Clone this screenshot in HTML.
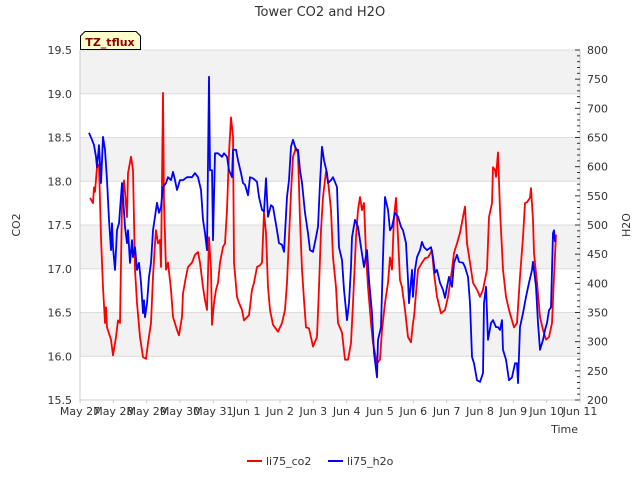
<!DOCTYPE html>
<html><head><meta charset="utf-8"><style>
body{margin:0;background:#fff;font-family:"Liberation Sans",sans-serif}
svg text{font-family:"DejaVu Sans","Liberation Sans",sans-serif;fill:#333}
</style></head><body>
<svg id="chart" width="640" height="480" xmlns="http://www.w3.org/2000/svg">
<g id="bands"></g>
<g id="grid"></g>
<g id="axes"></g>
<g id="series"></g>
<text x="320" y="16" text-anchor="middle" font-size="13">Tower CO2 and H2O</text>
<text x="20" y="225" text-anchor="middle" font-size="11" transform="rotate(-90 20 225)">CO2</text>
<text x="630" y="225" text-anchor="middle" font-size="11" transform="rotate(-90 630 225)">H2O</text>
<text x="578" y="433" text-anchor="end" font-size="11">Time</text>
<g>
<path d="M80.5,49.5 L80.5,36 L85,31.5 L136,31.5 L140.5,36 L140.5,49.5 Z" fill="#ffffcc" stroke="#000" stroke-width="1"/>
<text x="110" y="46" text-anchor="middle" font-size="11" font-weight="bold" style="fill:#8b0000">TZ_tflux</text>
</g>
<g>
<g><line x1="247" y1="461" x2="262" y2="461" stroke="#ff0000" stroke-width="2"/><text x="266" y="465" font-size="11">li75_co2</text></g>
<g><line x1="328" y1="461" x2="343" y2="461" stroke="#0000ff" stroke-width="2"/><text x="347" y="465" font-size="11">li75_h2o</text></g>
</g>
</svg>
<script>
const xTickLabels=["May 27","May 28","May 29","May 30","May 31","Jun 1","Jun 2","Jun 3","Jun 4","Jun 5","Jun 6","Jun 7","Jun 8","Jun 9","Jun 10","Jun 11"];
const co2Ticks=[15.5,16.0,16.5,17.0,17.5,18.0,18.5,19.0,19.5];
const h2oTicks=[200,250,300,350,400,450,500,550,600,650,700,750,800];
const co2Days=[.30,.39,.42,.45,.51,.57,.63,.69,.75,.78,.81,.93,.99,1.08,1.14,1.20,1.26,1.32,1.41,1.44,1.53,1.59,1.65,1.71,1.80,1.89,1.98,2.04,2.13,2.19,2.25,2.28,2.34,2.40,2.43,2.49,2.52,2.58,2.64,2.73,2.79,2.91,2.97,3.06,3.09,3.18,3.24,3.36,3.45,3.54,3.60,3.69,3.75,3.81,3.87,3.93,3.96,4.02,4.08,4.14,4.20,4.29,4.35,4.41,4.47,4.53,4.59,4.62,4.71,4.77,4.86,4.92,5.07,5.16,5.22,5.31,5.40,5.46,5.52,5.58,5.64,5.70,5.79,5.94,6.06,6.15,6.21,6.27,6.33,6.39,6.48,6.54,6.60,6.66,6.72,6.78,6.87,6.99,7.11,7.17,7.23,7.29,7.38,7.44,7.53,7.59,7.68,7.74,7.86,7.95,8.04,8.13,8.19,8.28,8.34,8.40,8.46,8.52,8.58,8.64,8.73,8.79,8.91,9.00,9.06,9.15,9.24,9.30,9.36,9.42,9.48,9.54,9.60,9.66,9.75,9.84,9.93,9.99,10.02,10.14,10.26,10.35,10.44,10.56,10.62,10.71,10.83,10.95,11.04,11.16,11.22,11.31,11.40,11.49,11.55,11.61,11.70,11.79,11.91,12.00,12.09,12.21,12.27,12.36,12.39,12.45,12.48,12.54,12.60,12.69,12.78,12.87,13.02,13.11,13.20,13.29,13.35,13.41,13.50,13.53,13.59,13.62,13.71,13.80,13.89,13.98,14.07,14.16,14.22,14.28];
const co2Values=[17.81,17.75,17.93,17.88,18.16,18.19,17.36,16.79,16.38,16.56,16.33,16.19,16.01,16.22,16.41,16.38,17.75,18.01,17.59,18.09,18.28,18.13,16.99,16.61,16.22,15.99,15.97,16.15,16.38,16.91,17.29,17.44,17.29,17.33,17.02,19.01,17.75,16.99,17.07,16.76,16.45,16.30,16.24,16.45,16.72,16.91,17.02,17.07,17.16,17.19,17.07,16.79,16.64,16.53,17.36,16.99,16.36,16.61,16.76,16.84,17.07,17.25,17.29,17.67,18.32,18.73,18.51,17.07,16.68,16.61,16.53,16.41,16.47,16.76,16.84,17.02,17.04,17.07,17.64,17.41,16.79,16.53,16.36,16.28,16.38,16.53,16.84,17.36,17.87,18.28,18.38,18.32,17.56,16.99,16.64,16.33,16.32,16.11,16.22,16.79,17.44,17.82,18.11,18.01,17.67,17.13,16.79,16.38,16.27,15.96,15.96,16.15,16.61,17.36,17.67,17.82,17.67,17.75,17.18,16.79,16.38,16.15,15.92,15.96,16.30,16.61,16.84,17.13,16.99,17.59,17.81,17.36,16.87,16.79,16.53,16.22,16.16,16.38,16.45,16.99,17.07,17.12,17.13,17.21,16.95,16.68,16.49,16.53,16.68,16.99,17.18,17.29,17.41,17.59,17.71,17.29,17.07,16.84,16.76,16.68,16.76,16.99,17.59,17.75,18.16,18.13,18.05,18.33,17.67,16.99,16.68,16.53,16.33,16.38,16.91,17.36,17.75,17.76,17.81,17.92,17.56,17.18,16.84,16.45,16.30,16.19,16.22,16.38,16.91,17.39];
const h2oDays=[.27,.36,.42,.48,.51,.57,.63,.69,.75,.81,.87,.93,.96,.99,1.05,1.11,1.17,1.26,1.29,1.35,1.41,1.44,1.50,1.56,1.59,1.65,1.71,1.77,1.83,1.89,1.92,1.95,2.01,2.07,2.13,2.19,2.25,2.31,2.37,2.43,2.49,2.58,2.64,2.73,2.79,2.85,2.91,3.00,3.09,3.21,3.36,3.45,3.54,3.63,3.69,3.75,3.81,3.87,3.90,3.96,3.99,4.05,4.14,4.26,4.32,4.41,4.47,4.56,4.59,4.68,4.74,4.83,4.89,4.95,5.04,5.10,5.19,5.31,5.37,5.46,5.52,5.58,5.64,5.73,5.79,5.91,5.97,6.06,6.12,6.21,6.27,6.33,6.39,6.48,6.54,6.60,6.66,6.75,6.84,6.90,6.99,7.08,7.14,7.20,7.26,7.32,7.41,7.44,7.53,7.59,7.71,7.77,7.86,7.92,8.01,8.07,8.13,8.16,8.25,8.34,8.43,8.52,8.61,8.67,8.76,8.82,8.91,8.94,9.03,9.09,9.15,9.24,9.30,9.36,9.45,9.54,9.63,9.69,9.78,9.84,9.87,9.96,9.99,10.05,10.11,10.20,10.26,10.32,10.41,10.53,10.59,10.65,10.71,10.80,10.89,10.95,11.01,11.07,11.16,11.22,11.31,11.37,11.49,11.55,11.64,11.70,11.76,11.82,11.91,12.00,12.09,12.12,12.18,12.24,12.33,12.39,12.48,12.54,12.60,12.66,12.69,12.78,12.87,12.96,13.05,13.11,13.14,13.20,13.29,13.38,13.47,13.56,13.59,13.68,13.74,13.80,13.89,13.95,14.01,14.07,14.13,14.19,14.22,14.25];
const h2oValues=[658,646,637,617,599,637,572,651,629,577,509,457,503,462,423,491,503,572,548,497,469,491,435,474,445,462,423,435,401,349,371,342,366,411,435,491,514,538,521,531,565,572,582,577,591,577,560,577,577,582,582,589,582,560,509,486,457,754,594,594,474,623,623,617,623,617,594,582,629,629,611,589,572,569,551,582,580,574,548,526,523,580,514,534,531,491,469,466,454,548,577,634,646,629,629,594,572,521,486,457,454,479,497,572,634,611,589,572,577,582,565,462,440,389,337,366,428,479,509,497,462,428,457,406,349,281,239,303,325,445,548,526,491,497,521,514,497,491,469,406,366,423,377,423,445,457,471,462,457,462,445,418,423,401,389,375,394,411,394,435,449,437,435,428,411,366,274,263,234,231,246,366,394,303,332,337,325,325,320,337,286,269,234,239,263,263,229,325,349,377,401,423,437,394,332,286,303,320,332,354,359,486,491,471];

const L=80,R=580,T=50,B=400,NS="http://www.w3.org/2000/svg";
const xS=d=>L+d*(R-L)/15;
const yC=v=>B-(v-15.5)*(B-T)/4;
const yH=v=>B-(v-200)*(B-T)/600;
function mk(tag,attrs,parent){const e=document.createElementNS(NS,tag);for(const k in attrs)e.setAttribute(k,attrs[k]);parent.appendChild(e);return e;}
const bands=document.getElementById('bands'),grid=document.getElementById('grid'),axes=document.getElementById('axes'),series=document.getElementById('series');
mk('rect',{x:L,y:T,width:R-L,height:B-T,fill:'#fff'},bands);
for(let i=0;i<co2Ticks.length-1;i++){
  if(i%2===1){const r=mk('rect',{x:L,y:yC(co2Ticks[i+1]),width:R-L,height:yC(co2Ticks[i])-yC(co2Ticks[i+1]),fill:'#f2f2f2'},bands);
  
  }
}
co2Ticks.forEach(v=>{
  const g=mk('line',{x1:L,x2:R,y1:yC(v),y2:yC(v),stroke:'#dcdcdc','stroke-width':1},grid);
  
  
  const t=mk('text',{x:L-8,y:yC(v)+4,'text-anchor':'end','font-size':11},axes);t.textContent=v.toFixed(1);
  
  
});
mk('line',{x1:L,x2:L,y1:T,y2:B,stroke:'#ccc'},axes);
mk('line',{x1:R,x2:R,y1:T,y2:B,stroke:'#ccc'},axes);
mk('line',{x1:L,x2:R,y1:B,y2:B,stroke:'#ccc'},axes);
for(let v=200;v<=800;v+=10){const maj=v%50===0;mk('line',{x1:R-(maj?5:3),x2:R,y1:yH(v),y2:yH(v),stroke:'#333'},axes);}
h2oTicks.forEach(v=>{
  const t=mk('text',{x:R+7,y:yH(v)+4,'font-size':11},axes);t.textContent=v;
  
  
});
xTickLabels.forEach((s,i)=>{
  mk('line',{x1:xS(i),x2:xS(i),y1:B,y2:B+3,stroke:'#ccc'},axes);
  const t=mk('text',{x:xS(i),y:B+15,'text-anchor':'middle','font-size':11},axes);t.textContent=s;
  
  
});
const pc=co2Days.map((d,i)=>xS(d).toFixed(1)+','+yC(co2Values[i]).toFixed(1)).join(' ');
const lc=mk('polyline',{points:pc,fill:'none',stroke:'#ff0000','stroke-width':1.8,'stroke-linejoin':'round'},series);


const ph=h2oDays.map((d,i)=>xS(d).toFixed(1)+','+yH(h2oValues[i]).toFixed(1)).join(' ');
const lh=mk('polyline',{points:ph,fill:'none',stroke:'#0000ff','stroke-width':1.8,'stroke-linejoin':'round'},series);


</script>
</body></html>
